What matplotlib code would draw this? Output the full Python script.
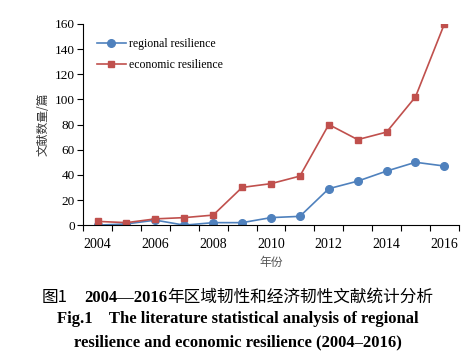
import matplotlib
matplotlib.use("Agg")
import matplotlib.pyplot as plt
import numpy as np

plt.rcParams['font.family'] = ['Liberation Serif', 'Noto Sans CJK SC', 'DejaVu Sans']

years = ['2004', '2005', '2006', '2007', '2008', '2009', '2010',
         '2011', '2012', '2013', '2014', '2015', '2016']
regional = [0, 1, 4, 0, 2, 2, 6, 7, 29, 35, 43, 50, 47]
economic = [3, 2, 5, 6, 8, 30, 33, 39, 80, 68, 74, 102, 160]
yticks = [0, 20, 40, 60, 80, 100, 120, 140, 160]

BLUE = '#4F81BD'
RED = '#C0504D'

fig = plt.figure(figsize=(4.75, 3.62), dpi=100)
ax = fig.add_axes([0.175, 0.378, 0.791, 0.556])

x = np.arange(len(years))
ax.plot(x, regional, color=BLUE, marker='o', ms=5.5, lw=1.2,
        label='regional resilience')
ax.plot(x, economic, color=RED, marker='s', ms=4.5, lw=1.2,
        label='economic resilience')

ax.set_xlim(-0.5, len(years) - 0.5)
ax.set_ylim(0, 160)
ax.set_yticks(yticks)

# category axis: tick marks at the boundaries, labels at centres
ax.set_xticks(np.arange(-0.5, len(years), 1))
ax.set_xticklabels([])
ax.set_xticks(x[::2], minor=True)
ax.set_xticklabels(years[::2], minor=True)
ax.tick_params(axis='x', which='minor', length=0, pad=9)
ax.tick_params(axis='x', which='major', length=4, width=0.8)
ax.tick_params(axis='y', length=4, width=0.8, pad=2)
ax.tick_params(labelsize=9.5)

for s in ['top', 'right']:
    ax.spines[s].set_visible(False)

ax.set_ylabel('文献数量/篇', fontsize=8.5, family=['Noto Sans CJK SC'], color='#333333',
              labelpad=4)
ax.set_xlabel('年份', fontsize=8.5, family=['Noto Sans CJK SC'], color='#555555',
              labelpad=4)

ax.legend(loc='upper left', bbox_to_anchor=(0.0, 1.0), frameon=False,
          fontsize=8.5, handlelength=2.4, handletextpad=0.25, labelspacing=0.75,
          borderaxespad=0.8)

# caption line 1: mixed bold serif numbers and regular CJK
renderer = fig.canvas.get_renderer()
parts = [('图1', 'normal', ['Noto Sans CJK SC']),
         ('    ', 'bold', ['Liberation Serif']),
         ('2004—2016', 'bold', ['Liberation Serif']),
         ('年区域韧性和经济韧性文献统计分析', 'normal', ['Noto Sans CJK SC'])]
texts = []
for s, w, fam in parts:
    t = fig.text(0, 0.178, s, ha='left', va='center', fontsize=12,
                 weight=w, family=fam)
    texts.append(t)
widths = [t.get_window_extent(renderer).width for t in texts]
total = sum(widths)
x0 = (fig.bbox.width - total) / 2
for t, w in zip(texts, widths):
    t.set_x(x0 / fig.bbox.width)
    x0 += w

fig.text(0.5, 0.118, 'Fig.1    The literature statistical analysis of regional',
         ha='center', va='center', fontsize=12, weight='bold')
fig.text(0.5, 0.055, 'resilience and economic resilience (2004–2016)',
         ha='center', va='center', fontsize=12, weight='bold')

fig.savefig('out.png', dpi=100)
